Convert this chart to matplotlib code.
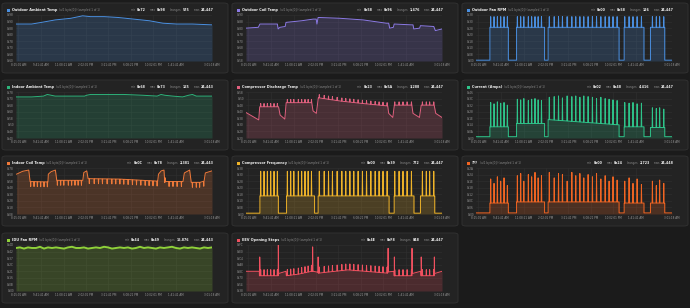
import numpy as np
import matplotlib
matplotlib.use('Agg')
import matplotlib.pyplot as plt
from matplotlib.patches import FancyBboxPatch, Rectangle

time_ticks = [1.2, 12.8, 24.3, 35.7, 47.1, 58.6, 70.0, 81.5, 100]
time_labels = ['8:15:01 AM', '9:41:41 AM', '11:08:21 AM', '2:02:01 PM', '3:21:41 PM',
               '6:08:21 PM', '10:02:01 PM', '1:41:41 AM', '3:01:18 AM']

# compressor cycles (on / off times) and the short bursts inside them
cycle_on = [7.1, 20.7, 36.8, 75.6, 89.0]
cycle_off = [16.5, 35.0, 73.0, 85.7, 96.3]
burst_t = [7.5, 9.2, 10.9, 12.6, 14.3, 16.0,
           21.1, 22.8, 24.4, 26.7, 28.4, 30.1, 31.7, 33.4,
           37.4, 39.9, 42.1, 44.1, 46.5, 48.9, 50.9, 53.0, 55.0, 57.2, 59.4, 61.5,
           63.7, 65.9, 67.9, 69.9, 72.0,
           75.9, 78.1, 80.1, 82.2, 84.4,
           90.0, 92.0, 93.7, 95.8]

amb_x = [0, 8, 13, 20, 24, 28, 34, 38, 45, 52, 60, 68, 75, 82, 90, 100]
amb_y = [141, 141, 143, 146, 147, 148, 151, 150, 150, 149, 147, 145, 142, 141, 141, 140]

coil_x = [0, 6.3, 7.1, 16.0, 16.4, 17.3, 20.0, 20.4, 28.4, 34.3, 35.8, 36.2, 36.8, 47.9,
          59.8, 71.6, 72.8, 73.3, 75.2, 75.6, 84.4, 85.2, 85.6, 88.6, 89.0, 95.8, 96.6, 100]
coil_y = [128, 129, 133, 133, 127, 129, 130, 135, 137, 139, 139, 133, 141, 140,
          138, 134, 134, 128, 129, 133, 132, 132, 127, 128, 131, 130, 125, 127]

fan_levels = [(41, 41), (41, 41), (41, 41), (41, 41), (41, 41)]
fan_off, fan_peak = 1, 54

in_amb_x = [0, 8, 14, 16, 18, 20, 25, 35, 36, 38, 45, 55, 65, 72, 74, 76, 80, 85, 88, 90, 92, 96, 100]
in_amb_y = [114, 114, 115, 117, 116, 115, 115, 115, 116, 117, 117, 117, 116, 115, 117, 116,
            115, 114, 116, 117, 115, 115, 115]

dis_x = [0, 6.5, 7.0, 16.6, 17.4, 19.8, 20.5, 33.5, 34.2, 35.9, 36.9, 48, 59.5, 72.3,
         72.8, 74.9, 75.7, 84.6, 85.2, 88.5, 89.4, 96.0, 96.8, 100]
dis_y = [63, 54, 70, 70, 60, 55, 75, 75, 65, 62, 81, 77, 74, 71,
         62, 57, 72, 72, 62, 57, 72, 72, 62, 57]
dis_bump = 4

cur_levels = [(17, 17), (22, 22), (28, 20), (17, 17), (16, 16)]
cur_off = 2
cur_peak = [54, 52, 55, 53, 54, 50,
            59, 58, 60, 57, 59, 60, 58, 57,
            62, 63, 64, 61, 64, 63, 64, 62, 64, 63, 62, 60, 62, 60, 59, 58, 57,
            54, 53, 54, 52, 53,
            46, 45, 46, 44]

icoil_x = [0.3, 3.4, 6.5, 7.2, 16.3, 16.5, 17.9, 20.1, 20.8, 34.1, 34.6, 36.1, 36.8, 52.8,
           72.3, 72.7, 74.1, 75.5, 76.1, 85.2, 85.9, 88.6, 89.4, 95.7, 96.6, 100]
icoil_y = [105, 112, 115, 87, 86, 105, 111, 115, 90, 90, 109, 113, 94, 93,
           88, 105, 113, 115, 87, 87, 108, 115, 85, 85, 108, 113]
icoil_dip = -12

freq_levels = [(22, 22), (22, 22), (22, 22), (22, 22), (22, 22)]
freq_off, freq_peak = 1, 52

ttt_levels = [(10, 10), (11, 11), (11, 11), (10, 10), (10, 10)]
ttt_off = 1
ttt_peak = [32, 28, 34, 30, 33, 26,
            35, 37, 30, 36, 34, 38, 33, 35,
            38, 33, 37, 36, 30, 38, 35, 37, 33, 36, 34, 37, 32, 35, 30, 34, 31,
            30, 33, 28, 32, 27,
            30, 26, 31, 28]

idu_vals = [72, 73, 71, 73, 72, 72, 74, 71, 73, 72, 73, 72, 71, 73, 74, 72, 72, 73, 71, 72,
            73, 72, 74, 73, 71, 72, 73, 72, 73, 71, 72, 74, 72, 73, 72, 71, 73, 72, 73, 74,
            72, 71, 73, 72, 73, 72, 71, 73, 72, 73]

eev_x = [0, 6.8, 7.0, 16.4, 16.6, 20.4, 20.6, 27, 33.5, 34.2, 36.7, 36.9, 52, 72.3, 72.6,
         75.5, 75.7, 84.6, 84.8, 89.2, 89.4, 96.0, 96.2, 100]
eev_y = [140, 140, 121, 121, 140, 140, 121, 128, 140, 140, 140, 132, 146, 132, 140,
         140, 121, 121, 140, 140, 121, 121, 140, 140]
eev_bump = 26
eev_big_t = [7.0, 16.5, 34.0, 36.8, 72.5, 75.7, 84.7, 89.4, 96.1]
eev_big_v = [201, 252, 244, 201, 238, 201, 238, 201, 201]

titles = ['Outdoor Ambient Temp', 'Outdoor Coil Temp', 'Outdoor Fan RPM',
          'Indoor Ambient Temp', 'Compressor Discharge Temp', 'Current (Amps)',
          'Indoor Coil Temp', 'Compressor Frequency', '???',
          'IDU Fan RPM', 'EEV Opening Steps']
stats = [('0x72', '0x98', '575', '24,447'), ('0x58', '0x96', '1,476', '24,447'),
         ('0x00', '0x58', '126', '24,447'), ('0x68', '0x73', '165', '24,443'),
         ('0x23', '0x5A', '3,288', '24,447'), ('0x02', '0x48', '4,416', '24,447'),
         ('0x0C', '0x78', '2,381', '24,443'), ('0x00', '0x39', '772', '24,447'),
         ('0x00', '0x24', '2,723', '24,448'), ('0x44', '0x49', '15,876', '24,443'),
         ('0x4E', '0xF8', '848', '24,447')]
colors = ['#4a90e2', '#8c7ae6', '#4a90e2', '#2db37a', '#e0607e', '#2ec48a',
          '#f07a3a', '#f0b429', '#f26522', '#8fd13a', '#f0505f']
# y axis: (lowest tick, tick step) -> 8 ticks
yaxes = [(96, 8), (88, 8), (0, 8), (64, 8), (32, 8), (0, 10),
         (8, 16), (0, 8), (0, 6), (0, 11), (56, 28)]


def step_outline(levels, off):
    x, y = [0], [off]
    for a, b, (l0, l1) in zip(cycle_on, cycle_off, levels):
        x += [a, a, b, b]
        y += [off, l0, l1, off]
    return x + [100], y + [off]


def spiked(bx, by, sx, top, rel=False, w=0.3):
    bx = np.asarray(bx, float)
    by = np.asarray(by, float)
    sx = np.asarray(sx, float)
    foot = np.interp(sx, bx, by)
    top = np.broadcast_to(np.asarray(top, float), sx.shape)
    peak = foot + top if rel else top
    xs, ys = list(bx), list(by)
    for s, f, p in zip(sx, foot, peak):
        xs += [s - w / 2, s, s + w / 2]
        ys += [f, p, f]
    order = np.argsort(xs, kind='stable')
    return np.array(xs)[order], np.array(ys)[order]


series = [
    (amb_x, amb_y),
    (coil_x, coil_y),
    spiked(*step_outline(fan_levels, fan_off), burst_t, fan_peak),
    (in_amb_x, in_amb_y),
    spiked(dis_x, dis_y, burst_t, dis_bump, rel=True),
    spiked(*step_outline(cur_levels, cur_off), burst_t, cur_peak),
    spiked(icoil_x, icoil_y, burst_t, icoil_dip, rel=True),
    spiked(*step_outline(freq_levels, freq_off), burst_t, freq_peak),
    spiked(*step_outline(ttt_levels, ttt_off), burst_t, ttt_peak),
    (np.linspace(0, 100, len(idu_vals)), idu_vals),
    spiked(*spiked(eev_x, eev_y, burst_t, eev_bump, rel=True), eev_big_t, eev_big_v),
]

# ---- layout (pixels) ----
W, H = 690, 308
fig = plt.figure(figsize=(6.9, 3.08), dpi=100, facecolor='#1b1b1b')
renderer = fig.canvas.get_renderer()
cols = [2, 232, 462]
rows = [3, 80, 156, 233]
pw, ph = 226, 70


def put(x, y, s, ha='left', **kw):
    t = fig.text(x / W, 1 - y / H, s, ha=ha, va='center', **kw)
    return t.get_window_extent(renderer)


for i, (title, st, c, (lo, step), (x, y)) in enumerate(zip(titles, stats, colors, yaxes, series)):
    x0, y0 = cols[i % 3], rows[i // 3]
    fig.patches.append(FancyBboxPatch((x0 / W, 1 - (y0 + ph) / H), pw / W, ph / H,
                                      boxstyle='round,pad=0,rounding_size=0.006',
                                      transform=fig.transFigure, fc='#232323',
                                      ec='#333333', lw=0.6, zorder=-2))
    fig.patches.append(Rectangle(((x0 + 5) / W, 1 - (y0 + 8.5) / H), 3 / W, 3 / H,
                                 transform=fig.transFigure, fc=c, ec='none', zorder=-1))
    bb = put(x0 + 10, y0 + 7, title, fontsize=2.5, weight='bold', color='#eeeeee')
    put(bb.x1 + 1.5, y0 + 7, '(u/1 byte[0]) (sampled 1 of 1)', fontsize=2.0, color='#8a8a8a')

    # stats, right to left
    xr = x0 + 212
    for lab, val in reversed(list(zip(['min', 'max', 'changes', 'rows'], st))):
        bb = put(xr, y0 + 7, val, ha='right', fontsize=2.3, weight='bold', color='#eeeeee')
        bb = put(bb.x0 - 1.2, y0 + 7, lab, ha='right', fontsize=2.0, color='#8a8a8a')
        xr = bb.x0 - 4

    hi = lo + 7 * step
    ax = fig.add_axes([(x0 + 14) / W, 1 - (y0 + 58) / H, 196 / W, 46 / H])
    ax.set_facecolor('none')
    ax.fill_between(x, lo, y, color=c, alpha=0.2, lw=0)
    ax.plot(x, y, color=c, lw=1.4 if i == 9 else 0.7)
    ax.set_xlim(0, 100)
    ax.set_ylim(lo, hi)
    yt = [lo + k * step for k in range(8)]
    ax.set_yticks(yt)
    ax.set_yticklabels([f'0x{v:02X}' for v in yt])
    ax.set_xticks(time_ticks)
    ax.set_xticklabels(time_labels)
    ax.tick_params(length=0, labelsize=2.0, colors='#9a9a9a', pad=1.5)
    ax.grid(True, color='#303030', lw=0.4)
    ax.set_axisbelow(True)
    for sp in ax.spines.values():
        sp.set_visible(False)

fig.savefig('out.png', dpi=100, facecolor=fig.get_facecolor())
